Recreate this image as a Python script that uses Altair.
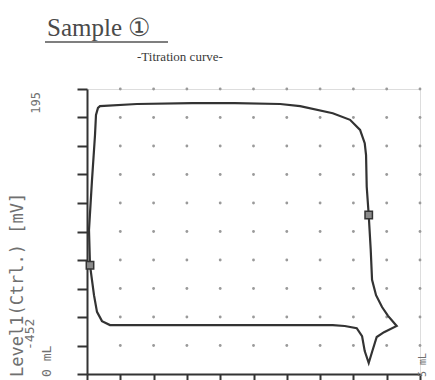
import altair as alt
import pandas as pd
import numpy as np

# Titration curve (closed loop)
ml = [0.045, 0.03, 0.075, 0.105, 0.12, 0.135, 0.165, 0.195, 0.75, 1.58, 2.22, 2.90, 3.20, 3.69,
      3.95, 4.10, 4.17, 4.19, 4.20, 4.23, 4.26, 4.28, 4.34, 4.43, 4.52, 4.65, 4.46, 4.35,
      4.28, 4.23, 4.17, 4.13, 4.05, 3.87, 3.69, 0.345, 0.225, 0.15, 0.105, 0.075, 0.045]
mv = [-205, -125, -12, 56, 90, 136, 152, 156, 161, 163, 163, 161, 156, 140,
      125, 102, 72, 45, -27, -91, -170, -238, -273, -300, -320, -343, -357, -368,
      -402, -427, -400, -366, -348, -343, -341, -341, -332, -311, -273, -239, -205]

marker_ml = [4.23, 0.045]
marker_mv = [-91, -205]

x_min, x_max = 0.0, 5.0
y_min, y_max = -452, 195
x_ticks = [float(v) for v in np.linspace(x_min, x_max, 11)]
y_ticks = [float(v) for v in np.linspace(y_min, y_max, 11)]

curve = pd.DataFrame({"ml": ml, "mv": mv, "order": list(range(len(ml)))})
markers = pd.DataFrame({"ml": marker_ml, "mv": marker_mv})
dots = pd.DataFrame([(xv, yv) for xv in x_ticks[1:] for yv in y_ticks[1:]], columns=["ml", "mv"])

xs = alt.Scale(domain=[x_min, x_max], nice=False, zero=False)
ys = alt.Scale(domain=[y_min, y_max], nice=False, zero=False)

INK = "#333333"

xaxis = alt.Axis(values=x_ticks, labels=False, title=None, grid=False, tickSize=6,
                 tickWidth=2, domainWidth=2, domainColor=INK, tickColor=INK,
                 tickCount=11, labelOverlap=False)
yaxis = alt.Axis(values=y_ticks, labels=False, title=None, grid=False, tickSize=10,
                 tickWidth=2, domainWidth=2, domainColor=INK, tickColor=INK,
                 tickCount=11, labelOverlap=False)

X = alt.X("ml:Q", scale=xs, axis=xaxis)
Y = alt.Y("mv:Q", scale=ys, axis=yaxis)

dot_layer = alt.Chart(dots).mark_circle(size=8, color="#9a9a9a", opacity=1).encode(x=X, y=Y)

line_layer = alt.Chart(curve).mark_line(color=INK, strokeWidth=2.2, interpolate="linear").encode(
    x=X, y=Y, order="order:Q")

marker_layer = alt.Chart(markers).mark_point(shape="square", size=55, filled=True,
                                             fill="#8a8a8a", stroke=INK, strokeWidth=1.5,
                                             opacity=1).encode(x=X, y=Y)


def txt(s, x, y, size, font, angle=0, align="left", color="#555555", weight="normal"):
    kw = dict(text=s, fontSize=size, font=font, align=align, color=color, fontWeight=weight,
              baseline="middle" if angle else "alphabetic")
    if angle:
        kw["angle"] = angle
    return alt.Chart(pd.DataFrame({"a": [0]})).mark_text(**kw).encode(
        x=alt.value(x), y=alt.value(y))


mono = "DejaVu Sans Mono"
serif = "Liberation Serif"
texts = [
    txt("Sample  \u2460", -40, -53, 25, serif, color="#4a4a4a"),
    txt("-Titration curve-", 50, -28, 13, serif, color="#3a3a3a"),
    txt("195", -51, 3, 12, mono, angle=270, align="right", color="#707070"),
    txt("Level1(Ctrl.) [mV]", -69, 288, 17, mono, angle=270, align="left", color="#707070"),
    txt("-452", -57, 261, 13, mono, angle=270, align="left", color="#707070"),
    txt("0 mL", -40, 288, 13, mono, angle=270, align="left", color="#707070"),
    txt("5 mL", 336, 288, 10, mono, angle=270, align="left", color="#707070"),
]

underline = alt.Chart(pd.DataFrame({"a": [0]})).mark_rule(color="#555555", strokeWidth=1.5).encode(
    x=alt.value(-42), x2=alt.value(81), y=alt.value(-47))

chart = alt.layer(dot_layer, line_layer, marker_layer, underline, *texts).properties(
    width=333, height=285,
    autosize=alt.AutoSizeParams(type="none"),
    padding={"left": 79, "top": 81, "right": 7, "bottom": 6},
).configure_view(stroke=None).configure(background="white")

chart.save("out.html", embed_options={"renderer": "svg", "actions": False})
